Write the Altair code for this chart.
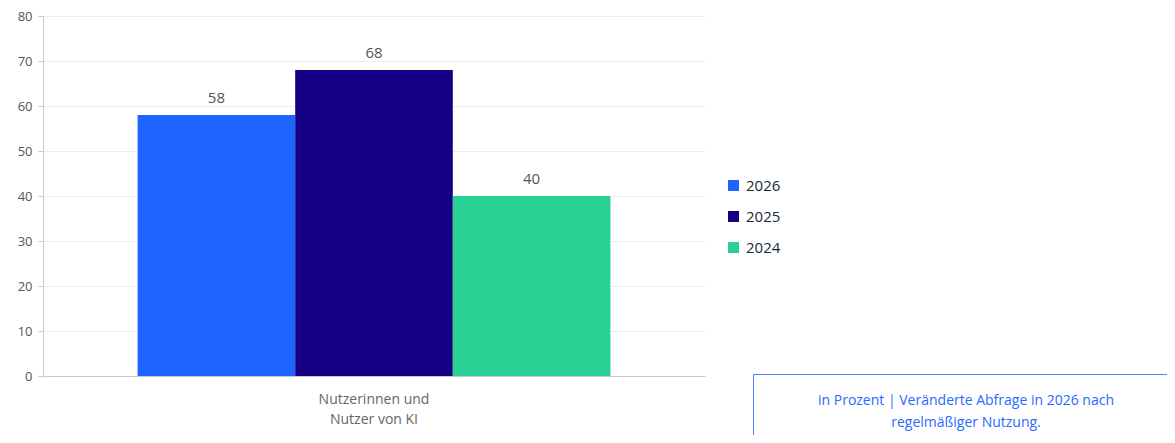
import altair as alt
import pandas as pd

categories = ["Nutzerinnen und\nNutzer von KI"]
years = ["2026", "2025", "2024"]
values = [58, 68, 40]
colors = ["#1e64ff", "#150085", "#2ad195"]
note_lines = ["in Prozent | Veränderte Abfrage in 2026 nach", "regelmäßiger Nutzung."]

df = pd.DataFrame({
    "Kategorie": categories * len(years),
    "Jahr": years,
    "Wert": values,
})

FONT = "Open Sans"
W, H = 662, 360
TOP = 8

x_enc = alt.X("Kategorie:N", title=None,
              scale=alt.Scale(paddingInner=0, paddingOuter=0.2),
              axis=alt.Axis(labelAngle=0, ticks=False, domainColor="#c8c8c8",
                            labelColor="#666666", labelFontSize=14, labelFont=FONT,
                            labelPadding=16, labelLineHeight=20,
                            labelExpr="split(datum.label, '\\n')"))
xoff = alt.XOffset("Jahr:N", sort=years, scale=alt.Scale(paddingInner=0, paddingOuter=0))
y_enc = alt.Y("Wert:Q", title=None,
              scale=alt.Scale(domain=[0, 80]),
              axis=alt.Axis(values=list(range(0, 81, 10)), tickColor="#c8c8c8",
                            domainColor="#c8c8c8", gridColor="#e9ecf2",
                            labelColor="#555555", labelFontSize=13, labelFont=FONT,
                            tickSize=5, labelPadding=6, minExtent=30, maxExtent=30))
color_enc = alt.Color("Jahr:N", sort=years,
                      scale=alt.Scale(domain=years, range=colors),
                      legend=alt.Legend(title=None, orient="none", legendX=683, legendY=162,
                                        symbolType="square", symbolSize=121,
                                        symbolStrokeWidth=0, labelFontSize=15,
                                        labelFont=FONT, labelColor="#1c2a36",
                                        rowPadding=15, labelOffset=5))

bars = alt.Chart(df).mark_bar(strokeWidth=0).encode(
    x=x_enc, xOffset=xoff, y=y_enc, color=color_enc)

labels = alt.Chart(df).mark_text(dy=-9, baseline="bottom", fontSize=15, font=FONT,
                                 color="#555555").encode(
    x=x_enc, xOffset=xoff, y=y_enc, text="Wert:Q")

note_df = pd.DataFrame({"note": ["\n".join(note_lines)]})
box = alt.Chart(pd.DataFrame({"a": [0]})).mark_rect(
    fill="white", stroke="#4f82ff", strokeWidth=1).encode(
    x=alt.value(710.5), x2=alt.value(1250), y=alt.value(358.5), y2=alt.value(470))
note = alt.Chart(note_df).mark_text(fontSize=14, font=FONT, color="#2a68ff",
                                    align="center", baseline="middle",
                                    lineBreak="\n", lineHeight=22).encode(
    x=alt.value(923), y=alt.value(385), text="note:N")

chart = alt.layer(bars, labels, box, note).properties(
    width=W, height=H,
    autosize=alt.AutoSizeParams(type="none"),
    padding={"left": 35, "top": TOP, "right": 1159 - 35 - W, "bottom": 427 - TOP - H},
).configure_view(stroke=None).configure_axis(labelFont=FONT)

chart.save("out.html", embed_options={"renderer": "svg", "actions": False})
